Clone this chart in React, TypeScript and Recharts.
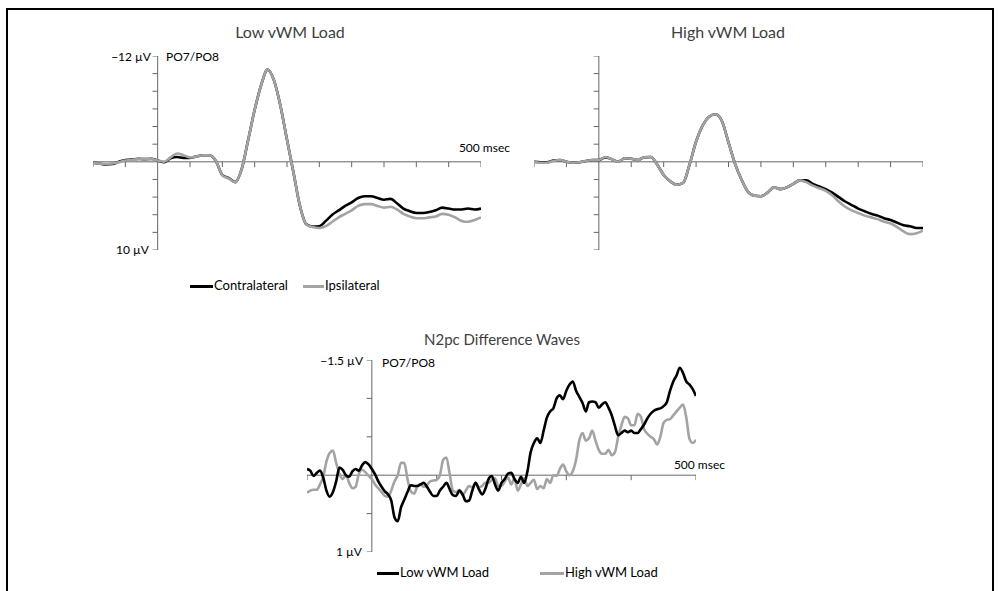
import React from 'react';
import { LineChart, Line, XAxis, YAxis, ReferenceLine } from 'recharts';

// time points (ms) for the two grand-average panels
const timesTop = [
  -100, -90, -80, -70, -60, -50, -40, -30, -20, -10, 0, 10, 20, 30, 40, 50, 60, 70, 80, 90,
  100, 110, 120, 130, 140, 150, 160, 170, 180, 190, 200, 210, 220, 230, 240, 250, 260, 270, 280, 290,
  300, 310, 320, 330, 340, 350, 360, 370, 380, 390, 400, 410, 420, 430, 440, 450, 460, 470, 480, 490, 500,
];

// Low vWM load (µV, negative up)
const lowContra = [
  0.1, 0.2, 0.3, 0.25, 0.0, -0.2, -0.25, -0.35, -0.3, -0.35, -0.15, 0.05, -0.4, -0.55, -0.45, -0.45, -0.6, -0.75, -0.75, -0.1,
  1.5, 1.85, 2.3, 0.8, -2.5, -5.9, -8.7, -10.45, -9.2, -6.3, -2.5, 1.2, 5.0, 7.1, 7.35, 7.3, 6.7, 6.0, 5.5, 5.0,
  4.6, 4.1, 3.9, 3.9, 4.1, 4.3, 4.2, 4.7, 5.3, 5.6, 5.8, 5.8, 5.7, 5.5, 5.2, 5.3, 5.4, 5.4, 5.3, 5.4, 5.3,
];
const lowIpsi = [
  0.1, 0.2, 0.25, 0.2, 0.05, -0.15, -0.2, -0.3, -0.3, -0.3, -0.15, 0.0, -0.5, -0.95, -0.75, -0.5, -0.6, -0.75, -0.75, -0.1,
  1.5, 1.9, 2.3, 0.8, -2.5, -5.9, -8.7, -10.45, -9.2, -6.3, -2.5, 1.2, 5.0, 7.1, 7.4, 7.5, 7.3, 6.8, 6.3, 5.9,
  5.5, 5.0, 4.8, 4.8, 5.0, 5.2, 5.1, 5.4, 5.9, 6.2, 6.4, 6.4, 6.3, 6.2, 5.9, 6.0, 6.3, 6.7, 6.8, 6.6, 6.3,
];

// High vWM load
const highContra = [
  0.0, 0.05, 0.05, -0.15, -0.2, 0.0, 0.1, 0.05, -0.1, -0.2, -0.2, -0.5, -0.3, 0.0, -0.4, -0.35, -0.2, -0.5, -0.55, 0.3,
  1.5, 2.2, 2.6, 2.4, 0.3, -2.3, -4.1, -5.1, -5.4, -4.6, -2.2, 0.2, 2.0, 3.4, 3.85, 3.9, 3.5, 2.9, 3.1, 2.9,
  2.5, 2.1, 2.1, 2.5, 2.8, 3.1, 3.5, 4.0, 4.5, 4.9, 5.3, 5.6, 5.9, 6.1, 6.4, 6.6, 6.9, 7.2, 7.3, 7.5, 7.5,
];
const highIpsi = [
  0.0, 0.1, 0.1, -0.1, -0.2, 0.0, 0.1, 0.05, -0.1, -0.2, -0.2, -0.55, -0.3, 0.0, -0.4, -0.35, -0.2, -0.5, -0.55, 0.3,
  1.5, 2.2, 2.6, 2.4, 0.3, -2.3, -4.1, -5.1, -5.4, -4.6, -2.2, 0.2, 2.0, 3.4, 3.85, 3.9, 3.5, 2.9, 3.1, 2.9,
  2.5, 2.1, 2.3, 2.7, 3.0, 3.3, 3.8, 4.5, 5.1, 5.5, 5.8, 6.1, 6.3, 6.5, 6.8, 7.0, 7.4, 7.9, 8.2, 8.1, 7.8,
];

// difference waves, 5 ms steps
const timesDiff = [
  -100, -95, -90, -85, -80, -75, -70, -65, -60, -55, -50, -45, -40, -35, -30, -25, -20, -15, -10, -5,
  0, 5, 10, 15, 20, 25, 30, 35, 40, 45, 50, 55, 60, 65, 70, 75, 80, 85, 90, 95,
  100, 105, 110, 115, 120, 125, 130, 135, 140, 145, 150, 155, 160, 165, 170, 175, 180, 185, 190, 195,
  200, 205, 210, 215, 220, 225, 230, 235, 240, 245, 250, 255, 260, 265, 270, 275, 280, 285, 290, 295,
  300, 305, 310, 315, 320, 325, 330, 335, 340, 345, 350, 355, 360, 365, 370, 375, 380, 385, 390, 395,
  400, 405, 410, 415, 420, 425, 430, 435, 440, 445, 450, 455, 460, 465, 470, 475, 480, 485, 490, 495, 500,
];
const diffLow = [
  -0.08, -0.06, 0.01, -0.03, -0.06, 0.03, 0.2, 0.28, 0.22, 0.08, -0.1, -0.07, 0.0, 0.02, -0.05, -0.08, -0.06, -0.13, -0.17, -0.14,
  -0.08, -0.01, 0.08, 0.15, 0.21, 0.25, 0.33, 0.55, 0.6, 0.42, 0.32, 0.22, 0.13, 0.14, 0.14, 0.12, 0.1, 0.15, 0.22, 0.27,
  0.27, 0.2, 0.15, 0.1, 0.18, 0.26, 0.27, 0.2, 0.25, 0.34, 0.33, 0.2, 0.1, 0.18, 0.25, 0.18, 0.05, 0.01, 0.12, 0.2,
  0.1, 0.05, -0.02, -0.03, 0.05, 0.1, 0.02, 0.1, -0.05, -0.3, -0.42, -0.48, -0.42, -0.58, -0.75, -0.83, -0.87, -1.0, -1.04, -0.99,
  -1.1, -1.18, -1.22, -1.1, -1.02, -0.94, -0.83, -0.95, -0.96, -0.95, -0.88, -0.92, -0.95, -0.88, -0.78, -0.64, -0.52, -0.55, -0.58, -0.56,
  -0.58, -0.55, -0.55, -0.6, -0.66, -0.74, -0.8, -0.84, -0.86, -0.87, -0.9, -0.95, -1.1, -1.22, -1.3, -1.4, -1.33, -1.22, -1.18, -1.12, -1.03,
];
const diffHigh = [
  0.23, 0.2, 0.19, 0.19, 0.12, 0.02, -0.18, -0.29, -0.32, -0.16, -0.02, 0.05, 0.0, 0.1, 0.17, 0.15, -0.02, -0.07, -0.04, 0.01,
  0.05, 0.12, 0.17, 0.22, 0.27, 0.28, 0.2, 0.08, 0.0, -0.16, -0.16, 0.05, 0.21, 0.24, 0.15, 0.12, 0.15, 0.13, 0.08, 0.07,
  0.06, 0.0, -0.2, -0.23, -0.02, 0.2, 0.22, 0.19, 0.26, 0.2, 0.14, 0.16, 0.1, 0.16, 0.14, 0.1, 0.1, 0.06, 0.04, 0.14,
  0.14, 0.08, 0.03, 0.12, 0.04, 0.2, 0.12, 0.04, 0.14, 0.1, 0.06, 0.18, 0.14, 0.17, 0.05, 0.1, 0.0, 0.01, -0.08, -0.14,
  -0.05, 0.0, -0.05, -0.2, -0.45, -0.55, -0.45, -0.48, -0.58, -0.45, -0.33, -0.28, -0.28, -0.33, -0.26, -0.3, -0.5, -0.65, -0.76, -0.74,
  -0.65, -0.65, -0.8, -0.76, -0.6, -0.54, -0.5, -0.47, -0.4, -0.5, -0.68, -0.72, -0.73, -0.78, -0.83, -0.88, -0.92, -0.75, -0.47, -0.42, -0.46,
];

// axis ticks
const xTicksTop = [-100, -50, 50, 100, 150, 200, 250, 300, 350, 400, 450, 500];
const yTicksTop = [-12, -10, -8, -6, -4, -2, 2, 4, 6, 8, 10];
const xTicksDiff = [-100, 100, 200, 300, 400, 500];
const yTicksDiff = [-1.5, -1, -0.5, 0.5, 1];

const font = 'Lato, "Open Sans", sans-serif';
const axisColor = '#666';
const grey = '#a3a3a3';

const topLow = timesTop.map((t, i) => ({ t, c: lowContra[i], p: lowIpsi[i] }));
const topHigh = timesTop.map((t, i) => ({ t, c: highContra[i], p: highIpsi[i] }));
const diffRows = timesDiff.map((t, i) => ({ t, low: diffLow[i], high: diffHigh[i] }));

interface PanelProps {
  left: number;
  top: number;
  width: number;
  height: number;
  data: any[];
  yDomain: [number, number];
  xTicks: number[];
  yTicks: number[];
  tickLenY: number; // x-tick length in data units (µV)
  tickLenX: number; // y-tick length in data units (ms)
  lines: { key: string; color: string }[];
}

function Panel({ left, top, width, height, data, yDomain, xTicks, yTicks, tickLenY, tickLenX, lines }: PanelProps) {
  return (
    <div style={{ position: 'absolute', left, top }}>
      <LineChart width={width} height={height} data={data} margin={{ top: 0, right: 0, bottom: 0, left: 0 }}>
        <XAxis hide type="number" dataKey="t" domain={[-100, 500]} />
        <YAxis hide type="number" domain={yDomain} reversed allowDataOverflow />
        <ReferenceLine y={0} stroke={axisColor} strokeWidth={1} />
        <ReferenceLine x={0} stroke={axisColor} strokeWidth={1} />
        {xTicks.map((t) => (
          <ReferenceLine key={'x' + t} segment={[{ x: t, y: 0 }, { x: t, y: tickLenY }]} stroke={axisColor} />
        ))}
        {yTicks.map((v) => (
          <ReferenceLine key={'y' + v} segment={[{ x: -tickLenX, y: v }, { x: 0, y: v }]} stroke={axisColor} />
        ))}
        {lines.map((l) => (
          <Line
            key={l.key}
            type="monotone"
            dataKey={l.key}
            stroke={l.color}
            strokeWidth={2.6}
            dot={false}
            isAnimationActive={false}
          />
        ))}
      </LineChart>
    </div>
  );
}

function Txt({ x, y, size = 12, color = '#000', children, anchor = 'left' }: any) {
  const style: React.CSSProperties = {
    position: 'absolute',
    top: y,
    fontFamily: font,
    fontSize: size,
    color,
    whiteSpace: 'nowrap',
    lineHeight: 1,
  };
  if (anchor === 'center') {
    style.left = x - 200;
    style.width = 400;
    style.textAlign = 'center';
  } else if (anchor === 'right') {
    style.left = x - 200;
    style.width = 200;
    style.textAlign = 'right';
  } else {
    style.left = x;
  }
  return <div style={style}>{children}</div>;
}

function Swatch({ x, y, w, color }: { x: number; y: number; w: number; color: string }) {
  return <div style={{ position: 'absolute', left: x, top: y, width: w, height: 3, background: color }} />;
}

export default function App() {
  return (
    <div style={{ position: 'absolute', left: 0, top: 0, width: 998, height: 591, background: '#fff', overflow: 'hidden' }}>
      <div
        style={{
          position: 'absolute',
          left: 6,
          top: 8,
          width: 984,
          height: 600,
          borderTop: '2px solid #000',
          borderLeft: '2px solid #000',
          borderRight: '2px solid #000',
        }}
      />

      <Txt x={290} y={24} size={16} color="#404040" anchor="center">Low vWM Load</Txt>
      <Txt x={728} y={24} size={16} color="#404040" anchor="center">High vWM Load</Txt>

      <Panel
        left={93}
        top={56}
        width={388}
        height={194}
        data={topLow}
        yDomain={[-12, 10]}
        xTicks={xTicksTop}
        yTicks={yTicksTop}
        tickLenY={0.6}
        tickLenX={8}
        lines={[{ key: 'c', color: '#000' }, { key: 'p', color: grey }]}
      />
      <Panel
        left={534}
        top={56}
        width={389}
        height={194}
        data={topHigh}
        yDomain={[-12, 10]}
        xTicks={xTicksTop}
        yTicks={yTicksTop}
        tickLenY={0.6}
        tickLenX={8}
        lines={[{ key: 'c', color: '#000' }, { key: 'p', color: grey }]}
      />

      <Txt x={151} y={51} anchor="right">−12 µV</Txt>
      <Txt x={166} y={51}>PO7/PO8</Txt>
      <Txt x={149} y={244} anchor="right">10 µV</Txt>
      <Txt x={510} y={142} anchor="right">500 msec</Txt>

      <Swatch x={190} y={285} w={23} color="#000" />
      <Txt x={214} y={279} size={13}>Contralateral</Txt>
      <Swatch x={303} y={285} w={21} color={grey} />
      <Txt x={325} y={279} size={13}>Ipsilateral</Txt>

      <Txt x={502} y={332} size={15} color="#404040" anchor="center">N2pc Difference Waves</Txt>
      <Panel
        left={307}
        top={360}
        width={389}
        height={192}
        data={diffRows}
        yDomain={[-1.5, 1]}
        xTicks={xTicksDiff}
        yTicks={yTicksDiff}
        tickLenY={0.065}
        tickLenX={8}
        lines={[{ key: 'high', color: grey }, { key: 'low', color: '#000' }]}
      />
      <Txt x={363} y={355} anchor="right">−1.5 µV</Txt>
      <Txt x={382} y={357}>PO7/PO8</Txt>
      <Txt x={362} y={546} anchor="right">1 µV</Txt>
      <Txt x={725} y={459} anchor="right">500 msec</Txt>

      <Swatch x={377} y={572} w={22} color="#000" />
      <Txt x={400} y={566} size={13}>Low vWM Load</Txt>
      <Swatch x={540} y={572} w={24} color={grey} />
      <Txt x={565} y={566} size={13}>High vWM Load</Txt>
    </div>
  );
}
